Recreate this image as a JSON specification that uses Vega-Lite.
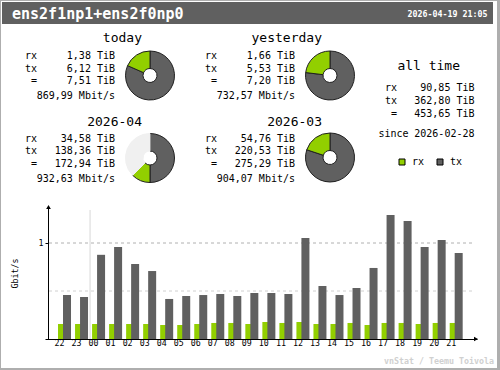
{
  "$schema": "https://vega.github.io/schema/vega-lite/v6.json",
  "width": 500,
  "height": 370,
  "autosize": {"type": "none"},
  "padding": 0,
  "background": "#AEAEAE",
  "config": {"view": {"stroke": null}, "font": "DejaVu Sans Mono", "text": {"font": "DejaVu Sans Mono"}},
  "datasets": {
    "header": [{"interface": "ens2f1np1+ens2f0np0", "updated": "2026-04-19 21:05", "credit": "vnStat / Teemu Toivola"}],
    "summary": [
      {"period": "today", "metric": "rx", "label": "rx", "value": "1,38 TiB"},
      {"period": "today", "metric": "tx", "label": "tx", "value": "6,12 TiB"},
      {"period": "today", "metric": "=", "label": "=", "value": "7,51 TiB"},
      {"period": "today", "metric": "rate", "label": "", "value": "869,99 Mbit/s"},
      {"period": "yesterday", "metric": "rx", "label": "rx", "value": "1,66 TiB"},
      {"period": "yesterday", "metric": "tx", "label": "tx", "value": "5,53 TiB"},
      {"period": "yesterday", "metric": "=", "label": "=", "value": "7,20 TiB"},
      {"period": "yesterday", "metric": "rate", "label": "", "value": "732,57 Mbit/s"},
      {"period": "2026-04", "metric": "rx", "label": "rx", "value": "34,58 TiB"},
      {"period": "2026-04", "metric": "tx", "label": "tx", "value": "138,36 TiB"},
      {"period": "2026-04", "metric": "=", "label": "=", "value": "172,94 TiB"},
      {"period": "2026-04", "metric": "rate", "label": "", "value": "932,63 Mbit/s"},
      {"period": "2026-03", "metric": "rx", "label": "rx", "value": "54,76 TiB"},
      {"period": "2026-03", "metric": "tx", "label": "tx", "value": "220,53 TiB"},
      {"period": "2026-03", "metric": "=", "label": "=", "value": "275,29 TiB"},
      {"period": "2026-03", "metric": "rate", "label": "", "value": "904,07 Mbit/s"},
      {"period": "all time", "metric": "rx", "label": "rx", "value": "90,85 TiB"},
      {"period": "all time", "metric": "tx", "label": "tx", "value": "362,80 TiB"},
      {"period": "all time", "metric": "=", "label": "=", "value": "453,65 TiB"},
      {"period": "all time", "metric": "since", "label": "since", "value": "2026-02-28"}
    ],
    "pies": [
      {"period": "today", "part": "tx", "amount": 6.12},
      {"period": "today", "part": "rx", "amount": 1.38},
      {"period": "yesterday", "part": "tx", "amount": 5.53},
      {"period": "yesterday", "part": "rx", "amount": 1.66},
      {"period": "2026-04", "part": "tx", "amount": 138.36},
      {"period": "2026-04", "part": "rx", "amount": 34.58},
      {"period": "2026-04", "part": "rest", "amount": 103.8},
      {"period": "2026-03", "part": "tx", "amount": 220.53},
      {"period": "2026-03", "part": "rx", "amount": 54.76}
    ],
    "bars": [
      {"hour": "22", "dir": "rx", "rate": 0.156}, {"hour": "22", "dir": "tx", "rate": 0.458},
      {"hour": "23", "dir": "rx", "rate": 0.156}, {"hour": "23", "dir": "tx", "rate": 0.4375},
      {"hour": "00", "dir": "rx", "rate": 0.156}, {"hour": "00", "dir": "tx", "rate": 0.877},
      {"hour": "01", "dir": "rx", "rate": 0.156}, {"hour": "01", "dir": "tx", "rate": 0.958},
      {"hour": "02", "dir": "rx", "rate": 0.156}, {"hour": "02", "dir": "tx", "rate": 0.781},
      {"hour": "03", "dir": "rx", "rate": 0.156}, {"hour": "03", "dir": "tx", "rate": 0.708},
      {"hour": "04", "dir": "rx", "rate": 0.146}, {"hour": "04", "dir": "tx", "rate": 0.417},
      {"hour": "05", "dir": "rx", "rate": 0.146}, {"hour": "05", "dir": "tx", "rate": 0.448},
      {"hour": "06", "dir": "rx", "rate": 0.156}, {"hour": "06", "dir": "tx", "rate": 0.458},
      {"hour": "07", "dir": "rx", "rate": 0.167}, {"hour": "07", "dir": "tx", "rate": 0.469},
      {"hour": "08", "dir": "rx", "rate": 0.167}, {"hour": "08", "dir": "tx", "rate": 0.448},
      {"hour": "09", "dir": "rx", "rate": 0.156}, {"hour": "09", "dir": "tx", "rate": 0.479},
      {"hour": "10", "dir": "rx", "rate": 0.177}, {"hour": "10", "dir": "tx", "rate": 0.479},
      {"hour": "11", "dir": "rx", "rate": 0.167}, {"hour": "11", "dir": "tx", "rate": 0.469},
      {"hour": "12", "dir": "rx", "rate": 0.177}, {"hour": "12", "dir": "tx", "rate": 1.052},
      {"hour": "13", "dir": "rx", "rate": 0.156}, {"hour": "13", "dir": "tx", "rate": 0.552},
      {"hour": "14", "dir": "rx", "rate": 0.156}, {"hour": "14", "dir": "tx", "rate": 0.458},
      {"hour": "15", "dir": "rx", "rate": 0.167}, {"hour": "15", "dir": "tx", "rate": 0.531},
      {"hour": "16", "dir": "rx", "rate": 0.146}, {"hour": "16", "dir": "tx", "rate": 0.740},
      {"hour": "17", "dir": "rx", "rate": 0.167}, {"hour": "17", "dir": "tx", "rate": 1.292},
      {"hour": "18", "dir": "rx", "rate": 0.167}, {"hour": "18", "dir": "tx", "rate": 1.229},
      {"hour": "19", "dir": "rx", "rate": 0.156}, {"hour": "19", "dir": "tx", "rate": 0.958},
      {"hour": "20", "dir": "rx", "rate": 0.167}, {"hour": "20", "dir": "tx", "rate": 1.031},
      {"hour": "21", "dir": "rx", "rate": 0.167}, {"hour": "21", "dir": "tx", "rate": 0.896}
    ]
  },
  "resolve": {"scale": {"x": "independent", "y": "independent", "color": "independent", "theta": "independent", "stroke": "independent"}},
  "layer": [
    {
      "data": {"name": "header"},
      "layer": [
        {"mark": {"type": "rect", "color": "white"}, "encoding": {"x": {"value": 1}, "x2": {"value": 497}, "y": {"value": 1}, "y2": {"value": 368}}},
        {"mark": {"type": "rect", "color": "#606060"}, "encoding": {"x": {"value": 2}, "x2": {"value": 493}, "y": {"value": 2}, "y2": {"value": 24}}},
        {"mark": {"type": "text", "align": "left", "baseline": "alphabetic", "fontSize": 15, "fontWeight": "bold", "color": "white"}, "encoding": {"text": {"field": "interface"}, "x": {"value": 12}, "y": {"value": 19}}},
        {"mark": {"type": "text", "align": "right", "baseline": "alphabetic", "fontSize": 8.3, "fontWeight": "bold", "color": "white"}, "encoding": {"text": {"field": "updated"}, "x": {"value": 487.5}, "y": {"value": 17}}},
        {"mark": {"type": "text", "align": "right", "baseline": "alphabetic", "fontSize": 8.3, "fontWeight": "bold", "color": "#D0D0D0"}, "encoding": {"text": {"field": "credit"}, "x": {"value": 494}, "y": {"value": 364}}}
      ]
    },
    {
      "data": {"name": "summary"},
      "transform": [{"filter": "datum.period == 'today'"}],
      "layer": [
        {"transform": [{"filter": "datum.metric == 'rx'"}], "mark": {"type": "text", "align": "right", "baseline": "alphabetic", "fontSize": 13}, "encoding": {"text": {"field": "period"}, "x": {"value": 142}, "y": {"value": 41.5}}},
        {"transform": [{"filter": "datum.metric != 'rate'"}], "mark": {"type": "text", "align": "right", "baseline": "alphabetic", "fontSize": 10}, "encoding": {"text": {"field": "label"}, "x": {"value": 37}, "y": {"field": "metric", "type": "nominal", "scale": {"domain": ["rx", "tx", "="], "range": [59, 84], "padding": 0}, "axis": null}}},
        {"transform": [{"filter": "datum.metric != 'rate'"}], "mark": {"type": "text", "align": "right", "baseline": "alphabetic", "fontSize": 10}, "encoding": {"text": {"field": "value"}, "x": {"value": 115}, "y": {"field": "metric", "type": "nominal", "scale": {"domain": ["rx", "tx", "="], "range": [59, 84], "padding": 0}, "axis": null}}},
        {"transform": [{"filter": "datum.metric == 'rate'"}], "mark": {"type": "text", "align": "right", "baseline": "alphabetic", "fontSize": 10}, "encoding": {"text": {"field": "value"}, "x": {"value": 115}, "y": {"value": 99}}}
      ]
    },
    {
      "data": {"name": "summary"},
      "transform": [{"filter": "datum.period == 'yesterday'"}],
      "layer": [
        {"transform": [{"filter": "datum.metric == 'rx'"}], "mark": {"type": "text", "align": "right", "baseline": "alphabetic", "fontSize": 13}, "encoding": {"text": {"field": "period"}, "x": {"value": 322}, "y": {"value": 41.5}}},
        {"transform": [{"filter": "datum.metric != 'rate'"}], "mark": {"type": "text", "align": "right", "baseline": "alphabetic", "fontSize": 10}, "encoding": {"text": {"field": "label"}, "x": {"value": 217}, "y": {"field": "metric", "type": "nominal", "scale": {"domain": ["rx", "tx", "="], "range": [59, 84], "padding": 0}, "axis": null}}},
        {"transform": [{"filter": "datum.metric != 'rate'"}], "mark": {"type": "text", "align": "right", "baseline": "alphabetic", "fontSize": 10}, "encoding": {"text": {"field": "value"}, "x": {"value": 295}, "y": {"field": "metric", "type": "nominal", "scale": {"domain": ["rx", "tx", "="], "range": [59, 84], "padding": 0}, "axis": null}}},
        {"transform": [{"filter": "datum.metric == 'rate'"}], "mark": {"type": "text", "align": "right", "baseline": "alphabetic", "fontSize": 10}, "encoding": {"text": {"field": "value"}, "x": {"value": 295}, "y": {"value": 99}}}
      ]
    },
    {
      "data": {"name": "summary"},
      "transform": [{"filter": "datum.period == '2026-04'"}],
      "layer": [
        {"transform": [{"filter": "datum.metric == 'rx'"}], "mark": {"type": "text", "align": "right", "baseline": "alphabetic", "fontSize": 13}, "encoding": {"text": {"field": "period"}, "x": {"value": 142}, "y": {"value": 125.5}}},
        {"transform": [{"filter": "datum.metric != 'rate'"}], "mark": {"type": "text", "align": "right", "baseline": "alphabetic", "fontSize": 10}, "encoding": {"text": {"field": "label"}, "x": {"value": 37}, "y": {"field": "metric", "type": "nominal", "scale": {"domain": ["rx", "tx", "="], "range": [141.5, 167], "padding": 0}, "axis": null}}},
        {"transform": [{"filter": "datum.metric != 'rate'"}], "mark": {"type": "text", "align": "right", "baseline": "alphabetic", "fontSize": 10}, "encoding": {"text": {"field": "value"}, "x": {"value": 115}, "y": {"field": "metric", "type": "nominal", "scale": {"domain": ["rx", "tx", "="], "range": [141.5, 167], "padding": 0}, "axis": null}}},
        {"transform": [{"filter": "datum.metric == 'rate'"}], "mark": {"type": "text", "align": "right", "baseline": "alphabetic", "fontSize": 10}, "encoding": {"text": {"field": "value"}, "x": {"value": 115}, "y": {"value": 181.5}}}
      ]
    },
    {
      "data": {"name": "summary"},
      "transform": [{"filter": "datum.period == '2026-03'"}],
      "layer": [
        {"transform": [{"filter": "datum.metric == 'rx'"}], "mark": {"type": "text", "align": "right", "baseline": "alphabetic", "fontSize": 13}, "encoding": {"text": {"field": "period"}, "x": {"value": 322}, "y": {"value": 125.5}}},
        {"transform": [{"filter": "datum.metric != 'rate'"}], "mark": {"type": "text", "align": "right", "baseline": "alphabetic", "fontSize": 10}, "encoding": {"text": {"field": "label"}, "x": {"value": 217}, "y": {"field": "metric", "type": "nominal", "scale": {"domain": ["rx", "tx", "="], "range": [141.5, 167], "padding": 0}, "axis": null}}},
        {"transform": [{"filter": "datum.metric != 'rate'"}], "mark": {"type": "text", "align": "right", "baseline": "alphabetic", "fontSize": 10}, "encoding": {"text": {"field": "value"}, "x": {"value": 295}, "y": {"field": "metric", "type": "nominal", "scale": {"domain": ["rx", "tx", "="], "range": [141.5, 167], "padding": 0}, "axis": null}}},
        {"transform": [{"filter": "datum.metric == 'rate'"}], "mark": {"type": "text", "align": "right", "baseline": "alphabetic", "fontSize": 10}, "encoding": {"text": {"field": "value"}, "x": {"value": 295}, "y": {"value": 181.5}}}
      ]
    },
    {
      "data": {"name": "summary"},
      "transform": [{"filter": "datum.period == 'all time'"}],
      "layer": [
        {"transform": [{"filter": "datum.metric == 'rx'"}], "mark": {"type": "text", "align": "right", "baseline": "alphabetic", "fontSize": 13}, "encoding": {"text": {"field": "period"}, "x": {"value": 460}, "y": {"value": 70}}},
        {"transform": [{"filter": "datum.metric != 'since'"}], "mark": {"type": "text", "align": "right", "baseline": "alphabetic", "fontSize": 10}, "encoding": {"text": {"field": "label"}, "x": {"value": 397}, "y": {"field": "metric", "type": "nominal", "scale": {"domain": ["rx", "tx", "="], "range": [90.7, 116.7], "padding": 0}, "axis": null}}},
        {"transform": [{"filter": "datum.metric != 'since'"}], "mark": {"type": "text", "align": "right", "baseline": "alphabetic", "fontSize": 10}, "encoding": {"text": {"field": "value"}, "x": {"value": 474.5}, "y": {"field": "metric", "type": "nominal", "scale": {"domain": ["rx", "tx", "="], "range": [90.7, 116.7], "padding": 0}, "axis": null}}},
        {"transform": [{"filter": "datum.metric == 'since'"}], "mark": {"type": "text", "align": "right", "baseline": "alphabetic", "fontSize": 10}, "encoding": {"text": {"field": "label"}, "x": {"value": 408.5}, "y": {"value": 137}}},
        {"transform": [{"filter": "datum.metric == 'since'"}], "mark": {"type": "text", "align": "right", "baseline": "alphabetic", "fontSize": 10}, "encoding": {"text": {"field": "value"}, "x": {"value": 474.5}, "y": {"value": 137}}}
      ]
    },
    {
      "data": {"name": "pies"},
      "transform": [{"filter": "datum.period == 'today'"}],
      "mark": {"type": "arc", "radius": 24.5, "innerRadius": 7, "strokeWidth": 1},
      "encoding": {
        "theta": {"field": "amount", "type": "quantitative", "stack": true},
        "order": {"field": "part", "sort": "descending"},
        "color": {"field": "part", "type": "nominal", "scale": {"domain": ["tx", "rx", "rest"], "range": ["#606060", "#92CF00", "#F0F0F0"]}, "legend": null},
        "stroke": {"field": "part", "type": "nominal", "scale": {"domain": ["tx", "rx", "rest"], "range": ["#202020", "#202020", "#F0F0F0"]}, "legend": null},
        "x": {"value": 150}, "y": {"value": 75.5}
      }
    },
    {
      "data": {"name": "pies"},
      "transform": [{"filter": "datum.period == 'yesterday'"}],
      "mark": {"type": "arc", "radius": 24.5, "innerRadius": 7, "strokeWidth": 1},
      "encoding": {
        "theta": {"field": "amount", "type": "quantitative", "stack": true},
        "order": {"field": "part", "sort": "descending"},
        "color": {"field": "part", "type": "nominal", "scale": {"domain": ["tx", "rx", "rest"], "range": ["#606060", "#92CF00", "#F0F0F0"]}, "legend": null},
        "stroke": {"field": "part", "type": "nominal", "scale": {"domain": ["tx", "rx", "rest"], "range": ["#202020", "#202020", "#F0F0F0"]}, "legend": null},
        "x": {"value": 330}, "y": {"value": 75.5}
      }
    },
    {
      "data": {"name": "pies"},
      "transform": [{"filter": "datum.period == '2026-04'"}],
      "mark": {"type": "arc", "radius": 24.5, "innerRadius": 7, "strokeWidth": 1},
      "encoding": {
        "theta": {"field": "amount", "type": "quantitative", "stack": true},
        "order": {"field": "part", "sort": "descending"},
        "color": {"field": "part", "type": "nominal", "scale": {"domain": ["tx", "rx", "rest"], "range": ["#606060", "#92CF00", "#F0F0F0"]}, "legend": null},
        "stroke": {"field": "part", "type": "nominal", "scale": {"domain": ["tx", "rx", "rest"], "range": ["#202020", "#202020", "#F0F0F0"]}, "legend": null},
        "x": {"value": 150}, "y": {"value": 158}
      }
    },
    {
      "data": {"name": "pies"},
      "transform": [{"filter": "datum.period == '2026-03'"}],
      "mark": {"type": "arc", "radius": 24.5, "innerRadius": 7, "strokeWidth": 1},
      "encoding": {
        "theta": {"field": "amount", "type": "quantitative", "stack": true},
        "order": {"field": "part", "sort": "descending"},
        "color": {"field": "part", "type": "nominal", "scale": {"domain": ["tx", "rx", "rest"], "range": ["#606060", "#92CF00", "#F0F0F0"]}, "legend": null},
        "stroke": {"field": "part", "type": "nominal", "scale": {"domain": ["tx", "rx", "rest"], "range": ["#202020", "#202020", "#F0F0F0"]}, "legend": null},
        "x": {"value": 330}, "y": {"value": 157.5}
      }
    },
    {
      "layer": [
        {"data": {"values": [{"gridline": "0.5 Gbit/s"}]}, "mark": {"type": "rule", "color": "#D0D0D0", "strokeDash": [3, 3]}, "encoding": {"x": {"value": 49}, "x2": {"value": 473}, "y": {"datum": 0.5}}},
        {"data": {"values": [{"gridline": "1 Gbit/s"}]}, "mark": {"type": "rule", "color": "#B0B0B0", "strokeDash": [3, 3]}, "encoding": {"x": {"value": 49}, "x2": {"value": 473}, "y": {"datum": 1}}},
        {"data": {"values": [{"boundary": "midnight"}]}, "mark": {"type": "rule", "color": "#D8D8D8"}, "encoding": {"x": {"datum": "00", "bandPosition": 0}, "y": {"datum": 1.344}, "y2": {"datum": 0}}},
        {
          "data": {"name": "bars"},
          "transform": [{"filter": "datum.dir == 'rx'"}],
          "mark": {"type": "bar", "width": 8, "xOffset": -2.5},
          "encoding": {
            "x": {"field": "hour", "type": "ordinal", "scale": {"domain": ["22","23","00","01","02","03","04","05","06","07","08","09","10","11","12","13","14","15","16","17","18","19","20","21"], "range": [45, 477], "paddingInner": 0, "paddingOuter": 0.684, "align": 0.472},
              "axis": {"orient": "bottom", "zindex": 2, "offset": -31, "title": null, "domainColor": "black", "domainWidth": 1, "ticks": false, "tickSize": 0, "labelAngle": 0, "labelFont": "DejaVu Sans Mono", "labelFontSize": 8.3, "labelColor": "black", "labelPadding": 4, "grid": false}},
            "y": {"field": "rate", "type": "quantitative", "scale": {"domain": [0, 1.375], "range": [339, 207], "nice": false, "zero": true},
              "axis": {"orient": "left", "zindex": 2, "offset": -48, "values": [1], "format": "d", "title": "Gbit/s", "titleFont": "DejaVu Sans Mono", "titleFontSize": 8.3, "titleFontWeight": "normal", "titleColor": "black", "titleX": -31, "titleY": 273, "titleAngle": 270, "titleBaseline": "alphabetic", "titleAlign": "center", "domainColor": "black", "domainWidth": 1, "tickColor": "black", "tickSize": 3, "labelFont": "DejaVu Sans Mono", "labelFontSize": 8.3, "labelColor": "black", "labelPadding": 2, "grid": false}},
            "color": {"field": "dir", "type": "nominal", "scale": {"domain": ["rx", "tx"], "range": ["#92CF00", "#606060"]},
              "legend": {"orient": "none", "legendX": 397, "legendY": 157, "direction": "horizontal", "title": null, "symbolType": "square", "symbolSize": 36, "symbolStrokeColor": "black", "symbolStrokeWidth": 1, "labelFont": "DejaVu Sans Mono", "labelFontSize": 10, "labelColor": "black", "labelOffset": 5, "columnPadding": 10, "padding": 0}}
          }
        },
        {
          "data": {"name": "bars"},
          "transform": [{"filter": "datum.dir == 'tx'"}],
          "mark": {"type": "bar", "width": 8, "xOffset": 2.5},
          "encoding": {
            "x": {"field": "hour", "type": "ordinal"},
            "y": {"field": "rate", "type": "quantitative"},
            "color": {"field": "dir", "type": "nominal"}
          }
        },
        {"data": {"values": [{"arrow": "y"}]}, "mark": {"type": "point", "shape": "triangle-up", "filled": true, "color": "black", "size": 22, "opacity": 1}, "encoding": {"x": {"value": 48.5}, "y": {"datum": 1.375}}},
        {"data": {"values": [{"arrow": "x"}]}, "mark": {"type": "point", "shape": "triangle-right", "filled": true, "color": "black", "size": 22, "opacity": 1}, "encoding": {"x": {"value": 476}, "y": {"datum": 0}}}
      ]
    }
  ]
}
